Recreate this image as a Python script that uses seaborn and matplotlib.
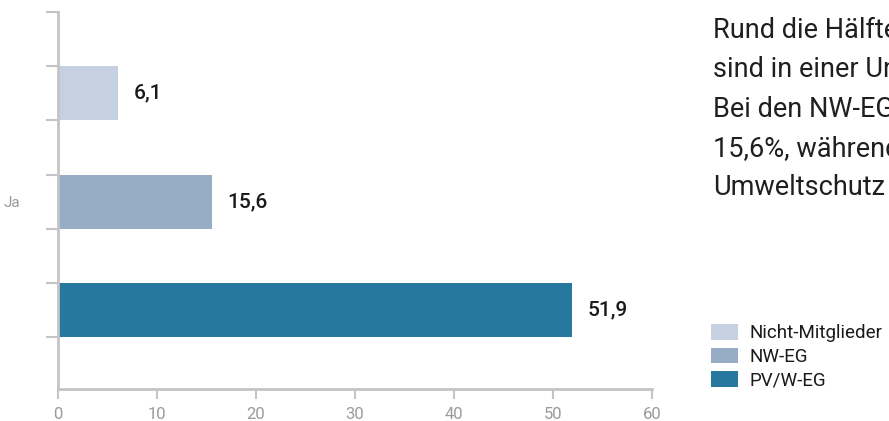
import pandas as pd
import numpy as np
import matplotlib.pyplot as plt
import seaborn as sns

# data
groups = ["Nicht-Mitglieder", "NW-EG", "PV/W-EG"]
values = [6.1, 15.6, 51.9]
colors = ["#c5d1e0", "#97adc6", "#26789e"]
category = "Ja"
xticks = [0, 10, 20, 30, 40, 50, 60]
text_lines = ["Rund die Hälfte", "sind in einer Umw", "Bei den NW-EG", "15,6%, während", "Umweltschutz"]

sns.set_theme(style="white")
plt.rcParams['font.family'] = ['Roboto', 'DejaVu Sans']

df = pd.DataFrame({"group": groups, "value": values})

fig = plt.figure(figsize=(8.89, 4.21), dpi=100)
ax = fig.add_axes([58/889, 1-389/421, (652-58)/889, (389-12)/421])

sns.barplot(data=df, x="value", y="group", hue="group", palette=colors,
            orient="h", width=0.5, saturation=1, linewidth=0, ax=ax, legend=True)

for c, v in zip(ax.containers, values):
    ax.bar_label(c, labels=[f"{v:.1f}".replace(".", ",")], padding=11,
                 fontsize=15, fontweight="medium", color="#1a1a1a")

grey = "#c4c4c6"
ax.set_xlim(0, 60)
ax.set_ylim(2.73, -0.75)
ax.set_xticks(xticks)
ax.set_xticklabels([str(t) for t in xticks], fontsize=12, color="#9a9a9a")
ax.tick_params(axis="x", length=7, width=1.5, color=grey, pad=6, direction="out", bottom=True)

ax.set_yticks([1])
ax.set_yticklabels([category], fontsize=11, color="#9a9a9a")
ax.tick_params(axis="y", which="major", length=0, pad=27)
ax.set_yticks([-0.75, -0.25, 0.25, 0.75, 1.25, 1.75, 2.25], minor=True)
ax.tick_params(axis="y", which="minor", length=9, width=1.5, color=grey, left=True)

ax.set_xlabel("")
ax.set_ylabel("")
for s in ["top", "right"]:
    ax.spines[s].set_visible(False)
for s in ["left", "bottom"]:
    ax.spines[s].set_color(grey)
    ax.spines[s].set_linewidth(2)

# legend moved to the right side
handles, labels = ax.get_legend_handles_labels()
ax.get_legend().remove()
fig.legend(handles, labels, loc="upper left", bbox_to_anchor=(711/889, 1-324/421),
           frameon=False, fontsize=13.5, handlelength=1.45, handleheight=0.9,
           handletextpad=0.6, labelspacing=0.28, borderaxespad=0, borderpad=0,
           labelcolor="#1a1a1a")

# side text (cut off at the figure edge)
for i, line in enumerate(text_lines):
    fig.text(713/889, 1-(38+39.3*i)/421, line, fontsize=19.5, color="#1f1f1f",
             va="baseline", ha="left")

fig.savefig("out.png", dpi=100)
